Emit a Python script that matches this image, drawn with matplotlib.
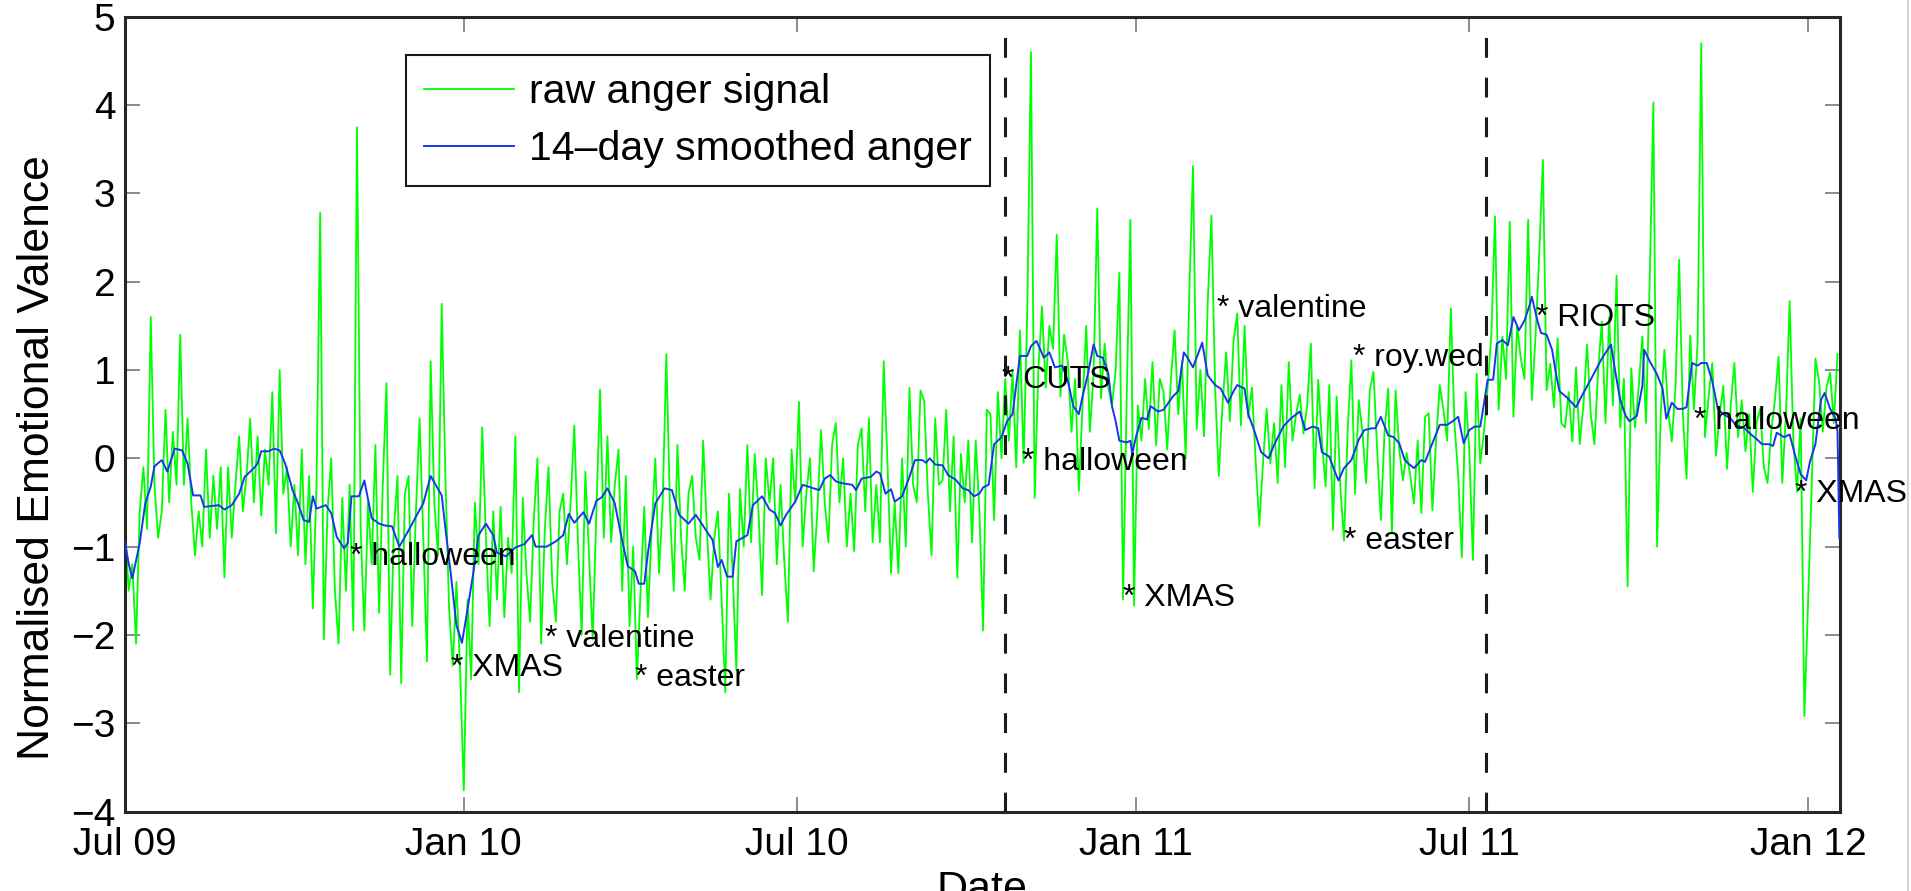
import pandas as pd
import matplotlib
matplotlib.use("Agg")
import matplotlib.pyplot as plt
import matplotlib.dates as mdates
from matplotlib.lines import Line2D

plt.rcParams["font.family"] = ["Liberation Sans", "DejaVu Sans"]

START = pd.Timestamp("2009-07-01")
END_DAY = 931.3

raw_anger = [
    -0.75, -1.5, -1.2, -2.1, -0.6, -0.1, -0.8, 1.6, -0.3, -0.9,
    -0.6, 0.55, -0.5, 0.3, -0.3, 1.4, -0.3, 0.45, -0.5, -1.1,
    -0.6, -1.0, 0.1, -0.9, -0.2, -0.8, -0.1, -1.35, -0.1, -0.9,
    -0.3, 0.25, -0.6, -0.2, 0.45, -0.5, 0.25, -0.65, 0.1, -0.3,
    0.75, -0.85, 1.0, -0.4, -0.1, -1.0, -0.3, -1.1, 0.1, -1.2,
    -0.2, -1.7, -0.3, 2.78, -2.05, -0.6, 0.0, -1.5, -2.1, -0.45,
    -1.5, -0.3, -1.95, 3.75, -0.8, -1.95, -0.5, -1.2, 0.15, -1.75,
    -0.3, 0.85, -2.45, -0.8, -0.2, -2.55, -0.4, -0.2, -1.9, -0.6,
    0.45, -0.9, -2.3, 1.1, -0.5, -1.1, 1.75, -0.2, -1.7, -2.35,
    -1.4, -2.4, -3.76, -1.6, -2.5, -0.5, -1.2, 0.35, -0.9, -1.9,
    -0.6, -1.6, -0.55, -1.8, -0.9, -1.3, 0.25, -2.65, -0.45, -1.3,
    -1.85, -0.7, 0.0, -2.1, -0.8, -0.1, -1.4, -1.85, -0.6, -0.4,
    -1.2, -0.5, 0.37, -0.95, -2.0, -0.15, -1.1, -2.05, -0.6, 0.78,
    -0.9, 0.25, -0.95, -0.3, 0.1, -1.5, -0.2, -1.9, -1.0, -2.5,
    -1.5, -0.55, -1.8, -0.8, 0.0, -1.3, -0.5, 1.18, -0.6, -1.5,
    0.15, -0.9, -1.5, -0.4, -0.2, -0.9, -1.15, 0.2, -0.8, -1.6,
    -0.9, -0.6, -1.6, -2.65, -0.4, -1.3, -2.4, -0.35, -1.0, 0.15,
    -0.95, 0.05, -0.6, -1.55, 0.0, -0.5, 0.0, -1.2, -0.3, -1.15,
    -1.85, 0.1, -0.5, 0.64, -1.0, -0.4, 0.0, -1.28, -0.6, 0.32,
    -0.5, -0.95, 0.15, 0.4, -0.5, 0.0, -1.0, -0.4, -1.05, 0.15,
    0.34, -0.6, 0.45, -0.95, -0.3, -0.95, 1.1, 0.0, -1.3, -0.5,
    -1.3, 0.0, -1.0, 0.8, -0.3, -0.5, 0.77, 0.65, -0.4, -1.1,
    0.45, -0.3, -0.25, 0.55, -0.6, 0.25, -1.35, 0.05, -0.5, 0.2,
    -0.95, 0.2, -0.6, -1.95, 0.55, 0.5, -0.7, 0.75, 0.0, 0.9,
    0.2, 0.98, -0.1, 1.45, -0.05, 1.7, 4.6, -0.45, 1.0, 1.72,
    0.8, 1.5, 1.24, 2.53, 0.7, 1.4, 1.1, 0.3, 0.9, -0.37,
    0.6, 1.5, 0.3, 0.95, 2.83, 0.68, 1.3, 0.8, 0.6, 1.0,
    2.1, -1.6, 0.7, 2.7, -1.67, 0.6, 0.2, 0.9, 0.33, 1.09,
    0.15, 0.9, 0.75, 0.1, 0.9, 1.45, 0.5, 1.1, 0.0, 1.9,
    3.31, 0.33, 1.0, 0.25, 1.77, 2.75, 0.8, -0.2, 0.6, 1.2,
    0.42, 1.33, 1.64, 0.37, 1.5, 0.46, 0.8, -0.02, -0.76, -0.05,
    0.56, -0.06, 0.4, -0.28, 0.83, -0.1, 1.09, 0.2, 0.5, 0.72,
    0.28, 0.6, 1.3, -0.34, 0.89, 0.2, -0.32, 0.83, -0.81, 0.7,
    -0.32, -0.93, 0.32, 1.11, -0.4, 0.66, 0.3, -0.28, 0.77, 0.98,
    0.1, -0.7, 0.3, 0.79, -0.85, 0.77, 0.1, -0.25, 0.06, -0.2,
    -0.51, 0.2, -0.62, 0.47, 0.51, -0.59, 0.2, 0.83, 0.55, 0.2,
    1.7, 0.39, -0.2, -1.12, 0.75, 0.1, -1.15, 0.96, -0.06, 0.3,
    0.8, 1.4, 2.74, 0.55, 1.38, 0.9, 2.68, 0.47, 1.5, 1.13,
    0.9, 2.7, 0.66, 1.38, 2.3, 3.38, 0.77, 1.07, 0.58, 1.36,
    0.4, 0.35, 0.75, 0.19, 1.03, 0.16, 0.6, 1.29, 0.5, 0.16,
    1.0, 1.55, 0.4, 1.6, 0.6, 2.07, 0.35, 0.9, -1.45, 1.02,
    0.35, 0.8, 1.38, 0.4, 2.02, 4.03, -1.0, 0.5, 1.23, 0.55,
    0.19, 0.8, 2.25, 0.5, -0.23, 1.39, 0.55, 1.3, 4.7, 0.24,
    0.7, 1.08, 0.03, 0.5, 0.82, -0.12, 0.6, 1.08, 0.24, 0.66,
    0.08, 0.5, -0.38, 0.4, 0.56, -0.1, -0.28, 0.3, 0.66, 1.15,
    -0.28, 0.5, 1.78, 0.2, -0.38, 0.45, -2.92, -1.64, -0.3, 1.13,
    0.87, 0.3, 0.8, 0.97, 0.4, 1.18,
]

# 14-day smoothed anger: (days after START, value)
smooth_day = [
    0, 2, 4, 8, 11, 14, 16, 20, 23, 27, 31, 34, 37, 41, 43, 51, 54, 58, 62, 65,
    70, 72, 74, 78, 81, 84, 87, 91, 94, 97, 100, 102, 104, 109, 112, 115, 119, 121, 123, 127,
    130, 134, 138, 141, 145, 149, 152, 156, 158, 162, 166, 172, 174, 177, 180, 183, 185, 189, 192, 196,
    200, 202, 207, 212, 217, 221, 223, 229, 234, 238, 241, 244, 249, 252, 256, 259, 262, 266, 269, 273,
    277, 279, 282, 284, 288, 293, 297, 301, 306, 310, 316, 319, 322, 324, 327, 330, 332, 338, 341, 346,
    350, 353, 356, 359, 364, 368, 371, 377, 380, 383, 386, 389, 395, 397, 400, 405, 408, 410, 413, 416,
    418, 422, 426, 429, 433, 435, 437, 440, 444, 447, 451, 455, 458, 461, 464, 466, 469, 472, 476, 479,
    482, 486, 490, 492, 495, 499, 502, 505, 509, 512, 515, 518, 520, 523, 526, 528, 531, 534, 536, 538,
    540, 544, 546, 547, 549, 552, 555, 557, 561, 564, 566, 569, 572, 575, 577, 580, 583, 585, 588, 592,
    595, 599, 602, 604, 608, 610, 613, 617, 621, 624, 629, 633, 638, 641, 645, 648, 650, 654, 657, 659,
    662, 666, 670, 673, 677, 679, 682, 686, 689, 692, 695, 697, 700, 704, 706, 710, 714, 718, 721, 724,
    727, 730, 733, 736, 738, 740, 743, 745, 748, 751, 754, 757, 760, 763, 764, 767, 769, 772, 775, 777,
    779, 783, 788, 792, 798, 802, 807, 809, 812, 815, 817, 821, 824, 825, 828, 832, 835, 837, 840, 843,
    846, 848, 851, 854, 856, 859, 862, 865, 868, 872, 875, 879, 883, 886, 889, 893, 895, 897, 901, 904,
    907, 910, 913, 915, 918, 921, 923, 926, 929, 930, 931,
]
smooth_anger = [
    -0.95, -1.19, -1.36, -0.96, -0.51, -0.32, -0.09, -0.02, -0.15, 0.11, 0.09, -0.06, -0.42, -0.42, -0.55, -0.53, -0.58, -0.53, -0.40, -0.21,
    -0.11, -0.06, 0.08, 0.08, 0.11, 0.09, -0.06, -0.36, -0.51, -0.70, -0.72, -0.43, -0.57, -0.53, -0.62, -0.89, -1.02, -0.96, -0.43, -0.43,
    -0.25, -0.68, -0.74, -0.76, -0.77, -1.0, -0.89, -0.74, -0.66, -0.51, -0.20, -0.42, -0.79, -1.32, -1.89, -2.09, -1.84, -1.32, -0.87, -0.74,
    -0.87, -1.07, -1.11, -1.01, -0.97, -0.87, -1.0, -1.0, -0.94, -0.87, -0.63, -0.73, -0.61, -0.74, -0.48, -0.44, -0.34, -0.51, -0.83, -1.22,
    -1.28, -1.42, -1.42, -1.07, -0.51, -0.34, -0.36, -0.64, -0.74, -0.64, -0.83, -0.92, -1.23, -1.15, -1.34, -1.34, -0.94, -0.87, -0.53, -0.43,
    -0.58, -0.62, -0.76, -0.64, -0.49, -0.30, -0.32, -0.36, -0.23, -0.19, -0.26, -0.28, -0.30, -0.36, -0.23, -0.21, -0.15, -0.17, -0.40, -0.35,
    -0.49, -0.43, -0.21, -0.02, -0.02, -0.05, 0.0, -0.07, -0.08, -0.19, -0.24, -0.34, -0.36, -0.43, -0.40, -0.33, -0.30, 0.16, 0.24, 0.42,
    0.50, 1.16, 1.16, 1.27, 1.33, 1.14, 1.20, 1.03, 1.05, 0.88, 0.59, 0.50, 0.70, 0.96, 1.29, 1.16, 1.14, 0.96, 0.59, 0.42,
    0.20, 0.18, 0.20, 0.05, 0.24, 0.46, 0.44, 0.59, 0.53, 0.55, 0.61, 0.70, 0.76, 1.20, 1.14, 1.03, 1.20, 1.31, 0.94, 0.83,
    0.79, 0.63, 0.76, 0.83, 0.79, 0.50, 0.33, 0.07, 0.0, 0.15, 0.36, 0.45, 0.53, 0.32, 0.36, 0.34, 0.07, 0.02, -0.15, -0.25,
    -0.11, -0.02, 0.21, 0.32, 0.34, 0.34, 0.47, 0.26, 0.24, 0.17, -0.02, -0.06, -0.11, -0.02, -0.04, 0.17, 0.38, 0.38, 0.42, 0.47,
    0.17, 0.32, 0.36, 0.36, 0.62, 0.89, 0.89, 1.30, 1.34, 1.28, 1.60, 1.45, 1.56, 1.75, 1.83, 1.56, 1.42, 1.40, 1.23, 0.97,
    0.76, 0.69, 0.58, 0.74, 0.97, 1.13, 1.29, 1.02, 0.66, 0.48, 0.42, 0.48, 0.82, 1.23, 1.10, 0.95, 0.79, 0.45, 0.63, 0.56,
    0.56, 0.58, 1.08, 1.05, 1.08, 1.08, 0.87, 0.56, 0.50, 0.45, 0.37, 0.35, 0.27, 0.22, 0.16, 0.16, 0.14, 0.29, 0.24, 0.27,
    0.03, -0.18, -0.25, -0.04, 0.16, 0.66, 0.74, 0.56, 0.45, 0.30, -0.90,
]

# annotated events
event_names = ["halloween", "XMAS", "valentine", "easter", "CUTS", "halloween", "XMAS",
               "valentine", "roy.wed", "easter", "RIOTS", "halloween", "XMAS"]
event_dates = ["2009-10-31", "2009-12-25", "2010-02-14", "2010-04-04", "2010-10-20",
               "2010-10-31", "2010-12-25", "2011-02-14", "2011-04-29", "2011-04-24",
               "2011-08-06", "2011-10-31", "2011-12-25"]
event_y = [-1.12, -2.37, -2.05, -2.49, 0.89, -0.04, -1.58, 1.69, 1.14, -0.94, 1.59, 0.42, -0.40]

# dashed period markers
period_lines = ["2010-10-22", "2011-07-10"]

raw_dates = pd.date_range(START, periods=len(raw_anger), freq="2D")
smooth_dates = START + pd.to_timedelta(smooth_day, unit="D")

fig = plt.figure(figsize=(19.11, 8.91), dpi=100)
ax = fig.add_axes([0.0654, 0.0892, 0.8974, 0.8919])

ax.plot(raw_dates, raw_anger, color="#00ff00", lw=1.3, label="raw anger signal", zorder=2)
ax.plot(smooth_dates, smooth_anger, color="#1a35ee", lw=1.4, label="14\u2013day smoothed anger", zorder=3)

for d in period_lines:
    ax.axvline(pd.Timestamp(d), color="#1a1a1a", lw=2.2, dashes=(6.5, 6.5), zorder=4)

for name, d, y in zip(event_names, event_dates, event_y):
    ax.text(pd.Timestamp(d), y, "* " + name, fontsize=23, ha="left", va="center", zorder=5)

ax.set_xlim(START, START + pd.Timedelta(days=END_DAY))
ax.set_ylim(-4, 5)
ax.set_yticks(range(-4, 6))
ax.xaxis.set_major_locator(mdates.MonthLocator(bymonth=[1, 7]))
ax.xaxis.set_major_formatter(mdates.DateFormatter("%b %y"))

ax.tick_params(direction="in", length=11, width=1.2, color="#777777", labelsize=28,
               top=True, right=True)
ax.tick_params(axis="x", pad=11)
ax.tick_params(axis="y", pad=7)
for s in ax.spines.values():
    s.set_linewidth(2.2)
    s.set_color("#262626")

ax.set_xlabel("Date", fontsize=31)
ax.xaxis.set_label_coords(0.5, -0.073)
ax.set_ylabel("Normalised Emotional Valence", fontsize=32)
ax.yaxis.set_label_coords(-0.039, 0.446)

leg = ax.legend(loc="upper left", bbox_to_anchor=(0.1638, 0.952), borderaxespad=0,
                fontsize=29.5, handlelength=2.2, handletextpad=0.35, borderpad=0.45,
                labelspacing=0.45, fancybox=False, framealpha=1)
leg.get_frame().set_edgecolor("#1a1a1a")
leg.get_frame().set_linewidth(1.5)

fig.add_artist(Line2D([0.9985, 0.9985], [0, 1], transform=fig.transFigure,
                      color="#cccccc", lw=1.2))

fig.savefig("out.png", dpi=100)
